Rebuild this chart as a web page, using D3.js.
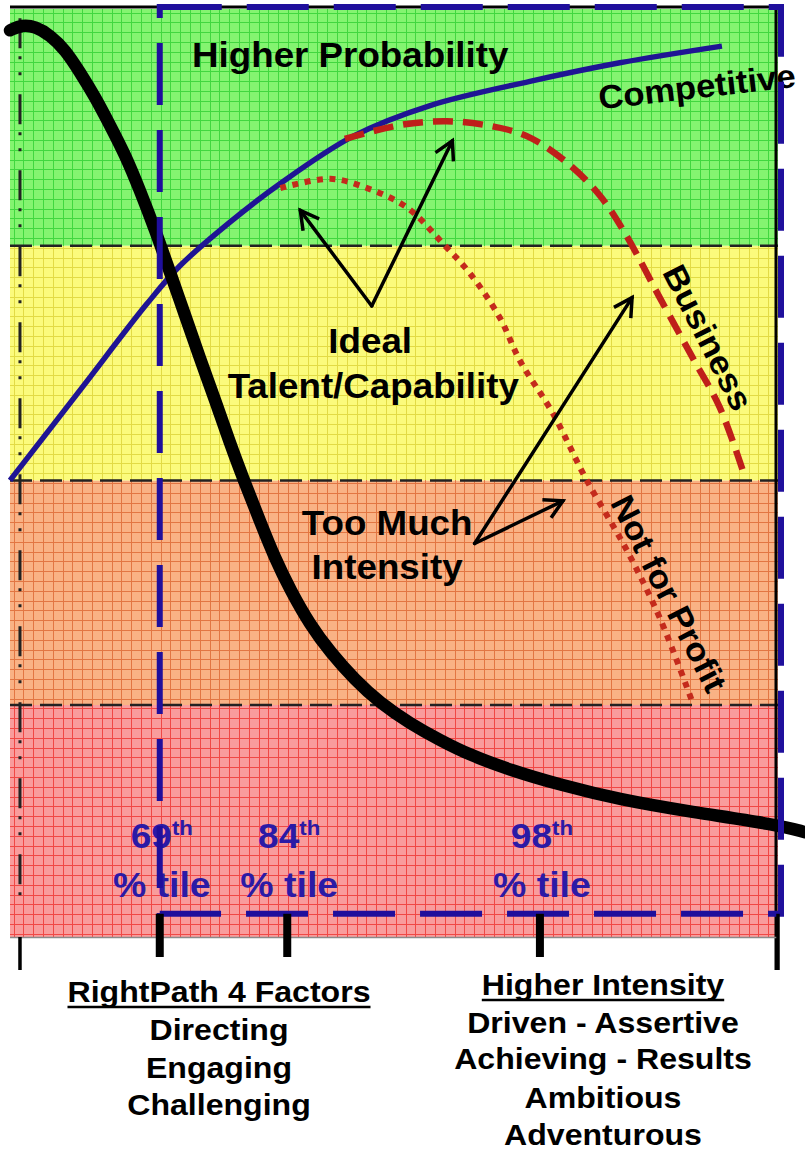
<!DOCTYPE html>
<html>
<head>
<meta charset="utf-8">
<script src="https://cdn.jsdelivr.net/npm/d3@7"></script>
<style>
  html, body { margin: 0; padding: 0; background: #fff; }
  svg { display: block; font-family: "Liberation Sans", Arial, Helvetica, sans-serif; }
</style>
</head>
<body>
<svg id="chart" width="805" height="1153"></svg>
<script>
// ---- data (x: intensity scale 0-100, y: probability 0-100) ----
const intensityCurve = [
  [0, 97.7], [1.6, 98.3], [3.3, 98.1], [5.2, 97.2], [7.2, 95.6], [9.1, 93.2],
  [11.1, 90.5], [13.0, 87.5], [15.0, 84.3], [16.9, 80.5], [18.9, 76.2], [20.8, 71.7],
  [22.8, 67.0], [24.7, 62.4], [26.7, 57.9], [28.6, 53.3], [30.6, 48.9], [32.6, 44.7],
  [34.5, 40.8], [36.5, 37.4], [39.1, 33.6], [41.7, 30.7], [44.9, 27.7], [48.2, 25.2],
  [52.1, 23.0], [56.0, 21.2], [59.9, 19.6], [65.1, 18.0], [71.6, 16.4], [79.4, 14.8],
  [88.5, 13.5], [100, 12.1], [103.5, 11.3]
];
const competitive = [
  [0, 49.2], [9.1, 58.9], [17.8, 68.2], [22.1, 72.3], [28.6, 77.0], [35.2, 81.2],
  [44.7, 86.3], [54.7, 89.6], [67.7, 92.2], [79.4, 94.2], [92.7, 96.0]
];
const business = [
  [43.6, 86.0], [50.8, 87.5], [56.9, 87.9], [62.5, 87.4], [67.3, 86.3], [72.3, 83.6],
  [76.8, 79.9], [80.1, 75.8], [84.6, 68.9], [88.9, 62.4], [92.4, 57.1], [95.4, 50.3]
];
const notForProfit = [
  [35.2, 80.7], [41.7, 81.7], [46.5, 80.7], [51.7, 78.6], [56.4, 74.7], [59.9, 71.5],
  [63.8, 66.7], [66.4, 62.1], [70.7, 56.4], [75.1, 49.2], [80.3, 41.7], [84.6, 34.4],
  [88.9, 25.2]
];
const bandEdges = [0, 25.0, 49.2, 74.5, 100];
const xTicks = [1.3, 19.5, 36.1, 69.0, 100];
const percentiles = ["69", "84", "98"];
const idealArrows = [[[47.1, 68.0], [37.8, 78.3]], [[47.1, 68.0], [57.6, 85.8]]];
const intensityArrows = [[[60.5, 42.4], [81.0, 68.9]], [[60.5, 42.4], [72.0, 47.0]]];
const factorLines = ["Directing", "Engaging", "Challenging"];
const intensityLines = ["Driven - Assertive", "Achieving - Results", "Ambitious", "Adventurous"];

// ---- layout ----
const svg = d3.select("#chart");
const x = d3.scaleLinear().domain([0, 100]).range([10, 778]);
const y = d3.scaleLinear().domain([0, 100]).range([937, 9]);

// band fills, bottom to top
const bandStyle = [
  { fill: "#f99c9c", grid: "#f0403c" },
  { fill: "#f9b285", grid: "#e0703c" },
  { fill: "#fbfb7c", grid: "#e0d840" },
  { fill: "#84f470", grid: "#3ad43a" }
];

const bands = d3.pairs(bandEdges).map((p, i) => ({ lo: p[0], hi: p[1], i }));

svg.append("g").selectAll("rect").data(bands).join("rect")
  .attr("x", x(0)).attr("width", x(100) - x(0))
  .attr("y", d => y(d.hi)).attr("height", d => y(d.lo) - y(d.hi))
  .attr("fill", d => bandStyle[d.i].fill);

// fine grid inside each band
const step = 9.8;
const gridG = svg.append("g").attr("stroke-width", 1).attr("shape-rendering", "crispEdges");
bands.forEach(b => {
  const top = y(b.hi), bot = y(b.lo);
  const g = gridG.append("g").attr("stroke", bandStyle[b.i].grid).attr("opacity", 0.9);
  g.selectAll("line.v").data(d3.range(x(0) + 4, x(100), step)).join("line")
    .attr("x1", d => d).attr("x2", d => d).attr("y1", top).attr("y2", bot);
  const hs = d3.range(y(100) + 4, y(0), step).filter(v => v >= top && v <= bot);
  g.selectAll("line.h").data(hs).join("line")
    .attr("x1", x(0)).attr("x2", x(100)).attr("y1", d => d).attr("y2", d => d);
});

// dashed band boundaries
svg.append("g").selectAll("line").data(bandEdges.slice(1, -1)).join("line")
  .attr("x1", x(0)).attr("x2", x(100))
  .attr("y1", d => y(d)).attr("y2", d => y(d))
  .attr("stroke", "#222").attr("stroke-width", 2.5).attr("stroke-dasharray", "22,8");

// dash-dot reference line on the left
svg.append("line")
  .attr("x1", x(xTicks[0])).attr("x2", x(xTicks[0]))
  .attr("y1", y(99)).attr("y2", y(3.8))
  .attr("stroke", "#222").attr("stroke-width", 3)
  .attr("stroke-dasharray", "30,8,3,13,3,19");

// ---- curves ----
const line = d3.line().x(d => x(d[0])).y(d => y(d[1])).curve(d3.curveCatmullRom.alpha(0.5));
const smoothLine = d3.line().x(d => x(d[0])).y(d => y(d[1])).curve(d3.curveBasis);

svg.append("path").datum(competitive).attr("d", line)
  .attr("fill", "none").attr("stroke", "#1f1494").attr("stroke-width", 5.5);

svg.append("path").datum(business).attr("d", line)
  .attr("fill", "none").attr("stroke", "#bf1f1a").attr("stroke-width", 6.5)
  .attr("stroke-dasharray", "20,10");

svg.append("path").datum(notForProfit).attr("d", line)
  .attr("fill", "none").attr("stroke", "#c42a1c").attr("stroke-width", 6)
  .attr("stroke-dasharray", "6,6.5");

svg.append("path").datum(intensityCurve).attr("d", smoothLine)
  .attr("fill", "none").attr("stroke", "#000").attr("stroke-width", 12.5)
  .attr("stroke-linecap", "round");

// ---- arrows ----
const defs = svg.append("defs");
defs.append("marker").attr("id", "head")
  .attr("viewBox", "-24 -14 28 28").attr("refX", 0).attr("refY", 0)
  .attr("markerWidth", 28).attr("markerHeight", 28)
  .attr("markerUnits", "userSpaceOnUse").attr("orient", "auto")
  .append("path").attr("d", "M-18,-10 L0,0 L-18,10")
  .attr("fill", "none").attr("stroke", "#000").attr("stroke-width", 3.5)
  .attr("stroke-linejoin", "miter");

svg.append("g").selectAll("line").data(idealArrows.concat(intensityArrows)).join("line")
  .attr("x1", d => x(d[0][0])).attr("y1", d => y(d[0][1]))
  .attr("x2", d => x(d[1][0])).attr("y2", d => y(d[1][1]))
  .attr("stroke", "#000").attr("stroke-width", 3.5)
  .attr("stroke-linecap", "round")
  .attr("marker-end", "url(#head)");

// ---- annotations ----
// text is drawn slightly wide: sx stretches horizontally about the anchor point
function label(txt, px, py, size, opts = {}) {
  const sx = opts.sx || 1.05;
  const rot = opts.rotate || 0;
  const t = svg.append("text")
    .attr("x", 0).attr("y", 0)
    .attr("text-anchor", "middle")
    .attr("font-size", size)
    .attr("font-weight", "bold")
    .attr("fill", opts.fill || "#000")
    .attr("transform", `translate(${px},${py}) rotate(${rot}) scale(${sx},1)`)
    .text(txt);
  if (opts.dy) t.attr("dy", opts.dy);
  return t;
}

label("Higher Probability", x(44.3), y(93.8), 35);
label("Ideal", x(46.9), y(62.9), 35);
label("Talent/Capability", x(47.3), y(58.1), 35);
label("Too Much", x(49.1), y(43.3), 35);
label("Intensity", x(49.1), y(38.6), 35);
label("Competitive", x(89.6), y(90.4), 33, { rotate: -6.5, sx: 1.05 });
label("Business", x(90.9), y(64.6), 33, { rotate: 63, dy: "0.35em", sx: 1.08 });
label("Not for Profit", x(85.8), y(37.0), 33, { rotate: 63, dy: "0.35em", sx: 1.06 });

// percentile markers
const pctG = svg.append("g").attr("fill", "#2b1aa6").attr("font-weight", "bold");
percentiles.forEach((p, i) => {
  const cx = x(xTicks[i + 1]) + 2;
  const t = pctG.append("text").attr("x", 0).attr("y", 0)
    .attr("transform", `translate(${cx},${y(9.6)}) scale(1.06,1)`)
    .attr("text-anchor", "middle").attr("font-size", 35);
  t.append("tspan").text(p);
  t.append("tspan").attr("font-size", 21).attr("dy", -13).text("th");
  pctG.append("text").attr("x", 0).attr("y", 0)
    .attr("transform", `translate(${cx},${y(4.3)}) scale(1.07,1)`)
    .attr("text-anchor", "middle").attr("font-size", 35).text("% tile");
});

// frame lines
svg.append("line").attr("x1", x(0)).attr("x2", x(100)).attr("y1", 7).attr("y2", 7)
  .attr("stroke", "#000").attr("stroke-width", 3);
svg.append("line").attr("x1", x(100) - 2).attr("x2", x(100) - 2).attr("y1", 7).attr("y2", 970)
  .attr("stroke", "#000").attr("stroke-width", 3);
svg.append("line").attr("x1", x(0)).attr("x2", x(100)).attr("y1", y(0) + 0.5).attr("y2", y(0) + 0.5)
  .attr("stroke", "#8a8a8a").attr("stroke-width", 1.5);

// focus box (69th percentile and up)
const bx0 = x(xTicks[1]), bx1 = x(100) + 3, by0 = 7, by1 = y(2.5);
svg.append("path")
  .attr("d", `M${bx0},${by0} H${bx1} V${by1} H${bx0} Z`)
  .attr("fill", "none").attr("stroke", "#1f0f9c").attr("stroke-width", 6)
  .attr("stroke-dasharray", "62,25");

// axis ticks
svg.append("g").selectAll("line").data(xTicks).join("line")
  .attr("x1", d => x(d)).attr("x2", d => x(d))
  .attr("y1", (d, i) => (i === 0 ? y(0) : by1))
  .attr("y2", (d, i) => (i === 0 || i === xTicks.length - 1 ? 970 : 957))
  .attr("stroke", "#000")
  .attr("stroke-width", (d, i) => (i === 0 || i === xTicks.length - 1 ? 3.5 : 8));

// ---- category captions below the axis ----
function captionText(cx, cy, txt) {
  return svg.append("text").attr("x", 0).attr("y", 0)
    .attr("transform", `translate(${cx},${cy}) scale(1.07,1)`)
    .attr("text-anchor", "middle").attr("font-size", 30).attr("font-weight", "bold").text(txt);
}
function captionBlock(cx, title, lines, titleY, lineYs) {
  const t = captionText(cx, titleY, title);
  const w = t.node().getComputedTextLength() * 1.07;
  svg.append("line").attr("x1", cx - w / 2).attr("x2", cx + w / 2)
    .attr("y1", titleY + 5).attr("y2", titleY + 5)
    .attr("stroke", "#000").attr("stroke-width", 2.5);
  lines.forEach((l, i) => captionText(cx, lineYs[i], l));
}
captionBlock(219, "RightPath 4 Factors", factorLines, 1002, [1040, 1078, 1115]);
captionBlock(603, "Higher Intensity", intensityLines, 995, [1033, 1069, 1108, 1145]);
</script>
</body>
</html>
